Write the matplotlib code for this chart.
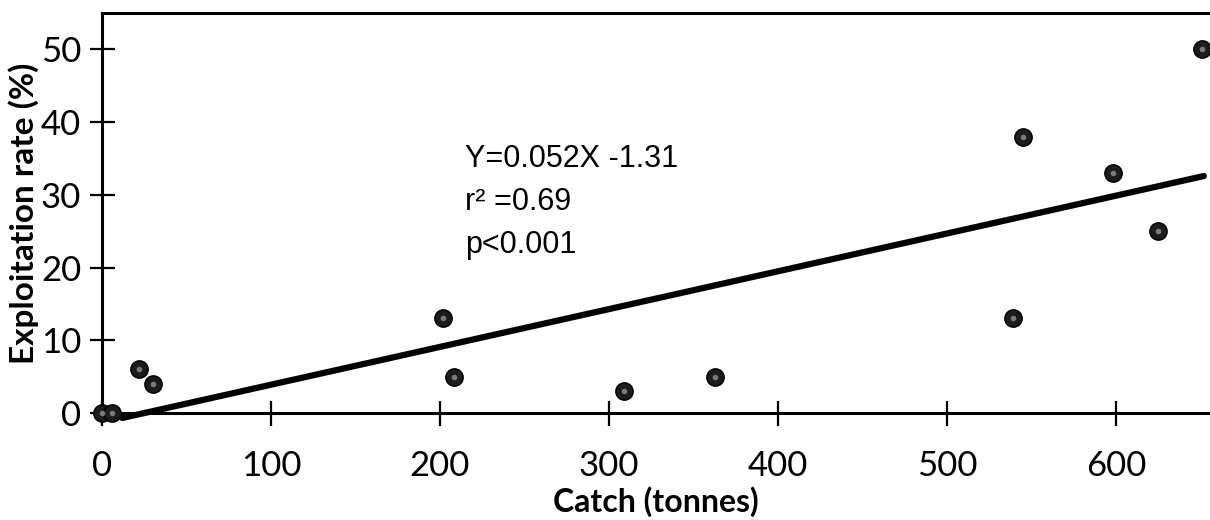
import numpy as np
import matplotlib
matplotlib.use("Agg")
import matplotlib.pyplot as plt

# data
catch = [0, 6, 22, 30, 202, 208, 309, 363, 539, 545, 598, 625, 651]
exploit = [0, 0, 6, 4, 13, 5, 3, 5, 13, 38, 33, 25, 50]

slope = 0.052
intercept = -1.31
fit_range = [12, 652]

xticks = [0, 100, 200, 300, 400, 500, 600]
yticks = [0, 10, 20, 30, 40, 50]

fig = plt.figure(figsize=(12.1, 5.2), dpi=100)
ax = fig.add_axes([0.0843, 0.2058, 0.9157, 0.769])

fx = np.array(fit_range)
ax.plot(fx, slope * fx + intercept, color="black", linewidth=4.5,
        solid_capstyle="round", clip_on=False, zorder=3)
ax.plot(catch, exploit, linestyle="none", marker="o", markersize=12.5,
        markerfacecolor="#1c1c1c", markeredgecolor="black", clip_on=False, zorder=4)
ax.plot(catch, exploit, linestyle="none", marker="o", markersize=4,
        markerfacecolor="#7a7a7a", markeredgecolor="none", clip_on=False, zorder=5)

ax.set_xlim(0, 655.6)
ax.set_ylim(0, 55)
ax.spines["right"].set_visible(False)
for s in ["left", "bottom", "top"]:
    ax.spines[s].set_linewidth(2.2)

ax.set_xticks(xticks)
ax.set_yticks(yticks)
ax.tick_params(axis="both", direction="inout", length=18, width=1.6,
               labelsize=25, colors="black")
ax.tick_params(axis="x", pad=18)
ax.tick_params(axis="y", pad=6)
for lab in ax.get_xticklabels() + ax.get_yticklabels():
    lab.set_family(["Lato", "DejaVu Sans"])

ax.set_xlabel("Catch (tonnes)", fontsize=23, fontweight="bold", labelpad=3,
              family=["Lato", "DejaVu Sans"])
ax.set_ylabel("Exploitation rate (%)", fontsize=24, fontweight="bold", labelpad=1,
              family=["Lato", "DejaVu Sans"])

txt_kw = dict(fontsize=22, family=["Liberation Sans", "DejaVu Sans"], va="center", ha="left")
ax.text(215, 35, "Y=0.052X -1.31", **txt_kw)
ax.text(215, 29, "r² =0.69", **txt_kw)
ax.text(215, 23.1, "p<0.001", **txt_kw)

fig.savefig("out.png", dpi=100)
